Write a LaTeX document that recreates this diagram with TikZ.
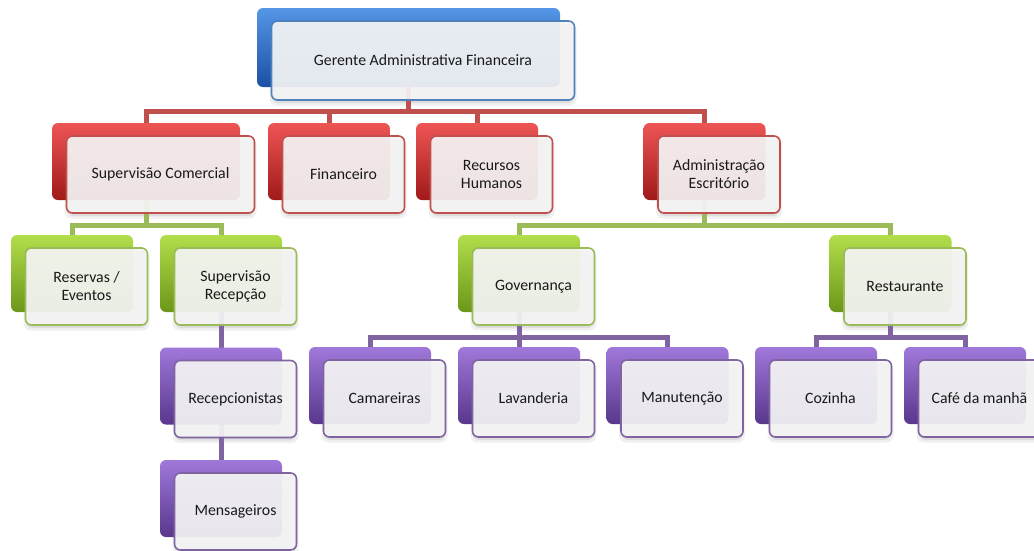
\documentclass[tikz,border=0pt]{standalone}
\usepackage{fontspec}
\setmainfont{Carlito}
\pgfdeclarelayer{shadow}
\pgfdeclarelayer{lines}
\pgfdeclarelayer{backs}
\pgfsetlayers{shadow,lines,backs,main}
\definecolor{bluetop}{RGB}{85,150,230}
\definecolor{bluemid}{RGB}{50,118,210}
\definecolor{bluebot}{RGB}{28,80,165}
\definecolor{blueline}{RGB}{79,129,189}
\definecolor{redtop}{RGB}{238,85,85}
\definecolor{redmid}{RGB}{218,48,48}
\definecolor{redbot}{RGB}{160,25,25}
\definecolor{redline}{RGB}{192,80,77}
\definecolor{greentop}{RGB}{178,222,75}
\definecolor{greenmid}{RGB}{152,200,48}
\definecolor{greenbot}{RGB}{108,150,25}
\definecolor{greenline}{RGB}{155,187,89}
\definecolor{purpletop}{RGB}{160,120,218}
\definecolor{purplemid}{RGB}{135,92,195}
\definecolor{purplebot}{RGB}{88,55,140}
\definecolor{purpleline}{RGB}{128,100,162}
\definecolor{frontfill}{RGB}{245,245,245}
\tikzset{
  backbox/.style={rounded corners=6pt, top color=#1top, middle color=#1mid, bottom color=#1bot, draw=none, inner sep=0pt},
  frontbox/.style={rounded corners=6pt, fill=frontfill, fill opacity=0.92, text opacity=1,
    draw=#1line, line width=1.6pt, draw opacity=1, inner sep=0pt, align=center,
    font=\fontsize{15.8}{18}\selectfont, text=black!90},
  shadowbox/.style={rounded corners=7pt, fill=black, fill opacity=#1, draw=none, inner sep=0pt},
  conn/.style={draw=#1line, line width=5pt},
}
\newcommand\orgbox[7]{%
  \begin{pgfonlayer}{backs}
  \node[backbox=#6, minimum width=#4pt, minimum height=#5pt] (#1B) at (#2,#3) {};
  \end{pgfonlayer}
  \node[frontbox=#6, minimum width=#4pt, minimum height=#5pt] (#1) at (#2+14.5,#3+13) {#7};
  \begin{pgfonlayer}{shadow}
  \node[shadowbox=0.06, minimum width=#4pt+4pt, minimum height=#5pt+3pt] (#1S) at (#2+14.5,#3+17) {};
  \node[shadowbox=0.08, minimum width=#4pt, minimum height=#5pt] (#1T) at (#2+14.5,#3+16) {};
  \end{pgfonlayer}
}
\begin{document}
\begin{tikzpicture}[x=1pt,y=-1pt]
\useasboundingbox (0,0) rectangle (1034,550);
\orgbox{top}{408.5}{47.5}{303}{79}{blue}{Gerente Administrativa Financeira}
\orgbox{sc}{146}{161.5}{188}{77}{red}{Supervisão Comercial}
\orgbox{fin}{329}{161.5}{122}{77}{red}{Financeiro}
\orgbox{rh}{477}{161.5}{122}{77}{red}{Recursos\\Humanos}
\orgbox{adm}{704.5}{161.5}{122}{77}{red}{Administração\\Escritório}
\orgbox{res}{72}{273.5}{122}{77}{green}{Reservas /\\Eventos}
\orgbox{sr}{221}{273.5}{122}{77}{green}{Supervisão\\Recepção}
\orgbox{gov}{519}{273.5}{122}{77}{green}{Governança}
\orgbox{rest}{890.5}{273.5}{122}{77}{green}{Restaurante}
\orgbox{rec}{221}{386}{122}{77}{purple}{Recepcionistas}
\orgbox{men}{221}{498.5}{122}{77}{purple}{Mensageiros}
\orgbox{cam}{370}{385.5}{122}{77}{purple}{Camareiras}
\orgbox{lav}{519}{385.5}{122}{77}{purple}{Lavanderia}
\orgbox{man}{667.5}{385.5}{122}{77}{purple}{Manutenção}
\orgbox{coz}{816}{385.5}{122}{77}{purple}{Cozinha}
\orgbox{cafe}{965}{385.5}{122}{77}{purple}{Café da manhã}
\coordinate (barR) at (0,111);
\coordinate (barG) at (0,225);
\coordinate (barP) at (0,337.5);
\begin{pgfonlayer}{lines}
\foreach \c in {sc,fin,rh,adm}
  \draw[conn=red] (topB.center) -- (topB |- barR) -| (\c B.center);
\foreach \c in {res,sr}
  \draw[conn=green] (scB.center) -- (scB |- barG) -| (\c B.center);
\foreach \c in {gov,rest}
  \draw[conn=green] (admB.center) -- (admB |- barG) -| (\c B.center);
\foreach \c in {cam,lav,man}
  \draw[conn=purple] (govB.center) -- (govB |- barP) -| (\c B.center);
\foreach \c in {coz,cafe}
  \draw[conn=purple] (restB.center) -- (restB |- barP) -| (\c B.center);
\draw[conn=purple] (srB.center) -- (recB.center);
\draw[conn=purple] (recB.center) -- (menB.center);
\end{pgfonlayer}
\end{tikzpicture}
\end{document}
